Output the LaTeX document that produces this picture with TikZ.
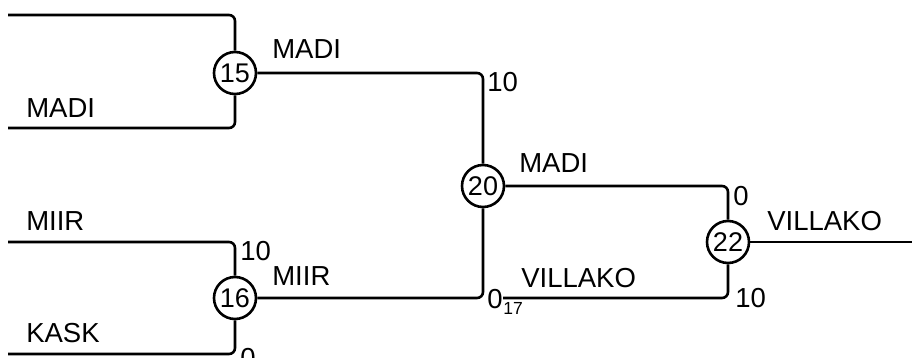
\documentclass[tikz,border=0pt]{standalone}
\usepackage{fontspec}
\setmainfont{Liberation Sans}
\begin{document}
\begin{tikzpicture}[x=1pt,y=-1pt,line width=2.6pt,
  game/.style={circle,draw,minimum size=42pt,inner sep=0pt,font=\fontsize{27}{31}\selectfont},
  lbl/.style={anchor=base west,inner sep=0pt,font=\fontsize{27.5}{31}\selectfont},
  sublbl/.style={anchor=base west,inner sep=0pt,font=\fontsize{17.5}{20}\selectfont},
  link/.style={rounded corners=6pt}]
\useasboundingbox (0,0) rectangle (912,358);
\node[game] (c15) at (235,73) {15};
\node[game] (c16) at (235,298) {16};
\node[game] (c20) at (483,186) {20};
\node[game] (c22) at (728,242) {22};
\coordinate (s1) at (8,15);
\coordinate (s2) at (8,128);
\coordinate (s3) at (8,242);
\coordinate (s4) at (8,354);
\coordinate (s17) at (503,298);
\coordinate (e22) at (912,242);
\draw[link] (s1) -| (c15);
\draw[link] (s2) -| (c15);
\draw[link] (s3) -| (c16);
\draw[link] (s4) -| (c16);
\draw[link] (c15) -| (c20);
\draw[link] (c16) -| (c20);
\draw[link] (c20) -| (c22);
\draw[link] (s17) -| (c22);
\draw (c22) -- (e22);
\node[lbl] (l1) at (271,59) {MADI};
\node[lbl] (l2) at (25,118) {MADI};
\node[lbl] (l3) at (486,92) {10};
\node[lbl] (l4) at (518,173) {MADI};
\node[lbl] (l5) at (732,205) {0};
\node[lbl] (l6) at (766,230) {VILLAKO};
\node[lbl] (l7) at (25,230) {MIIR};
\node[lbl] (l8) at (239,260) {10};
\node[lbl] (l9) at (520,287) {VILLAKO};
\node[lbl] (l10) at (271,285) {MIIR};
\node[lbl] (l11) at (486,308) {0};
\node[sublbl] (l12) at (502,314) {17};
\node[lbl] (l13) at (734,307) {10};
\node[lbl] (l14) at (25,342) {KASK};
\node[lbl] (l15) at (239,367) {0};
\end{tikzpicture}
\end{document}
